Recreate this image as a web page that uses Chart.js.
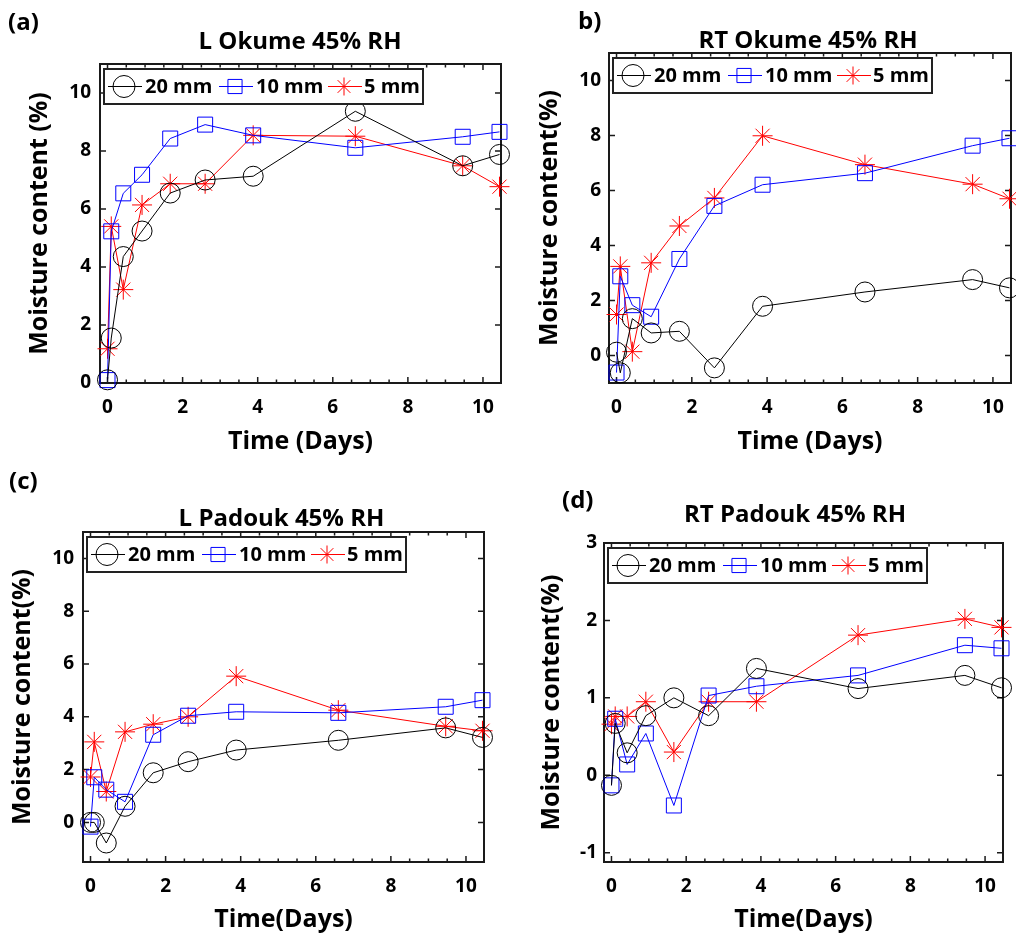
<!DOCTYPE html>
<html lang="en">
<head>
  <meta charset="UTF-8">
  <title>Moisture content - 45% RH</title>
  <script src="https://cdn.jsdelivr.net/npm/chart.js"></script>
  <style>
    html, body { margin: 0; padding: 0; background: #fff; }
    body { width: 1016px; height: 937px; position: relative; overflow: hidden; }
    canvas { position: absolute; }
  </style>
</head>
<body>
  <canvas id="chartA" width="520" height="470" style="left:0px;top:0px"></canvas>
  <canvas id="chartB" width="510" height="470" style="left:520px;top:0px"></canvas>
  <canvas id="chartC" width="520" height="467" style="left:0px;top:470px"></canvas>
  <canvas id="chartD" width="510" height="467" style="left:520px;top:470px"></canvas>

  <script>
    // sampling times (days), same for every series
    const days = [0, 0.1, 0.42, 0.92, 1.67, 2.6, 3.88, 6.6, 9.46, 10.44];
    const seriesNames = ['20 mm', '10 mm', '5 mm'];
    const xTicks = [0, 2, 4, 6, 8, 10];

    // (a) L Okume 45% RH
    const lOkume20 = [0.11, 1.55, 4.36, 5.24, 6.55, 7.0, 7.13, 9.37, 7.49, 7.88];
    const lOkume10 = [0.1, 5.23, 6.54, 7.18, 8.43, 8.91, 8.54, 8.11, 8.49, 8.66];
    const lOkume5  = [1.18, 5.4, 3.22, 6.14, 6.87, 6.87, 8.54, 8.51, 7.49, 6.77];

    // (b) RT Okume 45% RH
    const rtOkume20 = [0.12, -0.63, 1.34, 0.82, 0.88, -0.45, 1.79, 2.31, 2.76, 2.46];
    const rtOkume10 = [-0.62, 2.88, 1.83, 1.41, 3.51, 5.44, 6.21, 6.63, 7.63, 7.9];
    const rtOkume5  = [1.49, 3.24, 0.14, 3.37, 4.71, 5.73, 7.99, 6.94, 6.23, 5.7];

    // (c) L Padouk 45% RH
    const lPadouk20 = [0, 0, -0.78, 0.61, 1.88, 2.3, 2.74, 3.11, 3.58, 3.22];
    const lPadouk10 = [-0.16, 1.71, 1.24, 0.78, 3.32, 4.04, 4.19, 4.15, 4.38, 4.63];
    const lPadouk5  = [1.72, 3.05, 1.17, 3.43, 3.72, 4.0, 5.54, 4.25, 3.64, 3.47];

    // (d) RT Padouk 45% RH
    const rtPadouk20 = [-0.13, 0.67, 0.29, 0.77, 1.0, 0.77, 1.38, 1.12, 1.29, 1.13];
    const rtPadouk10 = [-0.13, 0.73, 0.14, 0.54, -0.39, 1.03, 1.15, 1.29, 1.68, 1.64];
    const rtPadouk5  = [0.66, 0.76, 0.76, 0.95, 0.3, 0.95, 0.95, 1.81, 2.02, 1.91];

    const yTicksOkume = [0, 2, 4, 6, 8, 10];
    const yTicksLPadouk = [0, 2, 4, 6, 8, 10];
    const yTicksRTPadouk = [-1, 0, 1, 2, 3];

    const FONT = '"Open Sans", "DejaVu Sans", sans-serif';
    const colors = ['#000000', '#0000ff', '#ff0000'];
    const markers = ['circle', 'rect', 'star'];
    const markerRadius = [10, 10.6, 10];
    const legendRadius = [11, 10, 9];

    Chart.defaults.color = '#000';
    Chart.defaults.font.family = FONT;

    function drawMarker(ctx, style, x, y, r) {
      ctx.beginPath();
      if (style === 'circle') {
        ctx.arc(x, y, r, 0, Math.PI * 2);
      } else if (style === 'rect') {
        const s = r * Math.SQRT1_2;
        ctx.rect(x - s, y - s, 2 * s, 2 * s);
      } else {
        for (let k = 0; k < 4; k++) {
          const a = k * Math.PI / 4;
          ctx.moveTo(x - Math.cos(a) * r, y - Math.sin(a) * r);
          ctx.lineTo(x + Math.cos(a) * r, y + Math.sin(a) * r);
        }
      }
      ctx.stroke();
    }

    // box around the axes with inward ticks on all four sides
    const axesBox = {
      id: 'axesBox',
      beforeDatasetsDraw(chart) {
        const { ctx, chartArea: a, scales: { x, y } } = chart;
        ctx.save();
        ctx.strokeStyle = '#1a1a1a';
        ctx.lineWidth = 1.5;
        ctx.beginPath();
        for (let v = Math.ceil(x.min * 2) / 2; v <= x.max; v += 0.5) {
          const px = x.getPixelForValue(v);
          const len = (Math.abs(v) % 2 === 0) ? 6 : 3.5;
          ctx.moveTo(px, a.bottom); ctx.lineTo(px, a.bottom - len);
          ctx.moveTo(px, a.top); ctx.lineTo(px, a.top + len);
        }
        y.ticks.forEach(t => {
          const py = y.getPixelForValue(t.value);
          ctx.moveTo(a.left, py); ctx.lineTo(a.left + 6, py);
          ctx.moveTo(a.right, py); ctx.lineTo(a.right - 6, py);
        });
        ctx.stroke();
        ctx.lineWidth = 2;
        ctx.strokeRect(a.left, a.top, a.right - a.left, a.bottom - a.top);
        ctx.restore();
      }
    };

    // boxed legend in the top left corner of the axes (matlab style)
    const boxLegend = {
      id: 'boxLegend',
      afterDatasetsDraw(chart) {
        const { ctx, chartArea: a } = chart;
        const bx = a.left + 4, by = a.top + 5, bw = 319, bh = 35;
        const cy = by + bh / 2;
        const slots = [[4, 38, 20, 41], [115, 149, 131, 152], [224, 258, 240, 260]];
        ctx.save();
        ctx.fillStyle = '#fff';
        ctx.fillRect(bx, by, bw, bh);
        ctx.lineWidth = 2;
        ctx.strokeStyle = '#222';
        ctx.strokeRect(bx, by, bw, bh);
        chart.data.datasets.forEach((ds, i) => {
          const [l0, l1, m, tx] = slots[i];
          ctx.strokeStyle = ds.borderColor;
          ctx.lineWidth = 1;
          ctx.beginPath();
          ctx.moveTo(bx + l0, cy);
          ctx.lineTo(bx + l1, cy);
          ctx.stroke();
          drawMarker(ctx, markers[i], bx + m, cy, legendRadius[i]);
          ctx.fillStyle = '#000';
          ctx.font = '700 20px ' + FONT;
          ctx.textAlign = 'left';
          ctx.textBaseline = 'middle';
          ctx.fillText(ds.label, bx + tx, cy + 1);
        });
        ctx.restore();
      }
    };

    // panel tag and title
    const panelText = {
      id: 'panelText',
      afterDraw(chart, args, opts) {
        const { ctx } = chart;
        ctx.save();
        ctx.fillStyle = '#000';
        ctx.font = '700 24px ' + FONT;
        ctx.textBaseline = 'middle';
        ctx.textAlign = 'left';
        ctx.fillText(opts.tag, opts.tagX, opts.tagY);
        ctx.textAlign = 'center';
        ctx.fillText(opts.title, opts.titleX, opts.titleY);
        ctx.restore();
      }
    };

    function makePanel(p) {
      const datasets = p.series.map((vals, i) => ({
        label: seriesNames[i],
        data: days.map((d, k) => ({ x: d, y: vals[k] })),
        borderColor: colors[i],
        borderWidth: 1,
        pointStyle: markers[i],
        pointRadius: markerRadius[i],
        pointBorderColor: colors[i],
        pointBackgroundColor: 'rgba(0,0,0,0)',
        pointBorderWidth: 1,
        tension: 0,
        clip: false
      }));

      new Chart(document.getElementById(p.id), {
        type: 'line',
        data: { datasets: datasets },
        plugins: [axesBox, boxLegend, panelText],
        options: {
          responsive: false,
          animation: false,
          events: [],
          layout: { autoPadding: false, padding: { top: p.padTop, right: p.padRight, left: 0, bottom: 0 } },
          plugins: {
            legend: { display: false },
            tooltip: { enabled: false },
            title: { display: false },
            panelText: { tag: p.tag, tagX: p.tagX, tagY: p.tagY, title: p.title, titleX: p.titleX, titleY: p.titleY }
          },
          scales: {
            x: {
              type: 'linear',
              min: -0.2,
              max: 10.48,
              afterBuildTicks: s => { s.ticks = xTicks.map(v => ({ value: v })); },
              afterFit: s => { s.height = p.xH; },
              grid: { display: false, drawTicks: false },
              border: { display: false },
              ticks: { padding: 13, autoSkip: false, maxRotation: 0, color: '#000', font: { size: 19, weight: '700' } },
              title: { display: true, text: p.xTitle, color: '#000', font: { size: 25, weight: '700' }, padding: { top: 0, bottom: p.xTitlePad } }
            },
            y: {
              type: 'linear',
              min: p.yMin,
              max: p.yMax,
              afterBuildTicks: s => { s.ticks = p.yTicks.map(v => ({ value: v })); },
              afterFit: s => { s.width = p.yW; },
              grid: { display: false, drawTicks: false },
              border: { display: false },
              ticks: { padding: p.yTickPad, color: '#000', font: { size: 19, weight: '700' } },
              title: { display: true, text: p.yTitle, color: '#000', font: { size: 25, weight: '700' }, padding: { top: p.yTitlePad, bottom: 0 } }
            }
          }
        }
      });
    }

    makePanel({
      id: 'chartA', tag: '(a)', tagX: 8, tagY: 23, title: 'L Okume 45% RH', titleX: 300, titleY: 42,
      series: [lOkume20, lOkume10, lOkume5], yMin: 0, yMax: 11, yTicks: yTicksOkume,
      xTitle: 'Time (Days)', yTitle: 'Moisture content (%)',
      padTop: 64, padRight: 19, yW: 100, xH: 87, yTickPad: 9, yTitlePad: 25, xTitlePad: 13
    });
    makePanel({
      id: 'chartB', tag: 'b)', tagX: 58, tagY: 22.5, title: 'RT Okume 45% RH', titleX: 288, titleY: 41.5,
      series: [rtOkume20, rtOkume10, rtOkume5], yMin: -1, yMax: 11, yTicks: yTicksOkume,
      xTitle: 'Time (Days)', yTitle: 'Moisture content(%)',
      padTop: 53, padRight: 19, yW: 89, xH: 87, yTickPad: 8, yTitlePad: 15, xTitlePad: 13
    });
    makePanel({
      id: 'chartC', tag: '(c)', tagX: 9, tagY: 12, title: 'L Padouk 45% RH', titleX: 281.5, titleY: 49,
      series: [lPadouk20, lPadouk10, lPadouk5], yMin: -1.5, yMax: 11, yTicks: yTicksLPadouk,
      xTitle: 'Time(Days)', yTitle: 'Moisture content(%)',
      padTop: 62, padRight: 36, yW: 83, xH: 75, yTickPad: 9, yTitlePad: 8, xTitlePad: 2
    });
    makePanel({
      id: 'chartD', tag: '(d)', tagX: 42, tagY: 31.5, title: 'RT Padouk 45% RH', titleX: 275, titleY: 45,
      series: [rtPadouk20, rtPadouk10, rtPadouk5], yMin: -1.12, yMax: 3, yTicks: yTicksRTPadouk,
      xTitle: 'Time(Days)', yTitle: 'Moisture content(%)',
      padTop: 73, padRight: 27, yW: 84, xH: 75, yTickPad: 7, yTitlePad: 17, xTitlePad: 2
    });
  </script>
</body>
</html>
